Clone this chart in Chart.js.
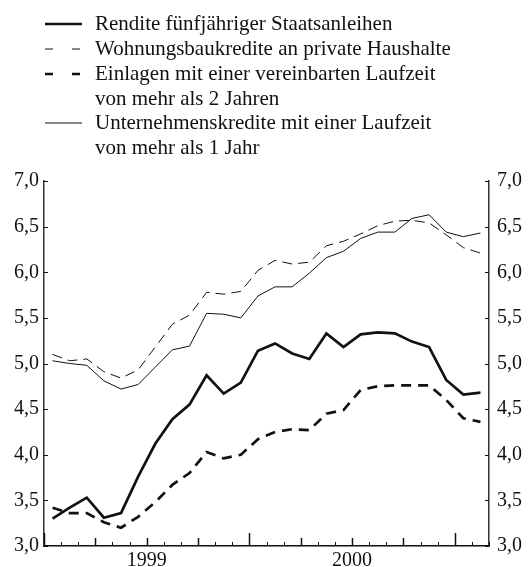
<!DOCTYPE html>
<html>
<head>
<meta charset="utf-8">
<script src="https://cdn.jsdelivr.net/npm/chart.js@4.4.0/dist/chart.umd.min.js"></script>
<style>
  html, body { margin: 0; padding: 0; background: #fff; }
  #wrap { position: relative; width: 528px; height: 567px; }
  #legend { position: absolute; left: 0; top: 0; font-family: "Liberation Serif", "Times New Roman", serif; font-size: 21px; color: #111; }
  .txt { position: absolute; left: 95px; white-space: nowrap; line-height: 24.5px; }
  .key { position: absolute; left: 45px; }
  canvas { position: absolute; left: 0; top: 0; }
</style>
</head>
<body>
<div id="wrap">
  <canvas id="chart" width="528" height="567"></canvas>
  <div id="legend">
    <svg class="key" style="top:21px" width="40" height="6"><line x1="0" y1="3" x2="37" y2="3" stroke="#111" stroke-width="2.7"/></svg>
    <div class="txt" style="top:11px">Rendite fünfjähriger Staatsanleihen</div>
    <svg class="key" style="top:46px" width="40" height="6"><line x1="0" y1="3" x2="37" y2="3" stroke="#111" stroke-width="1" stroke-dasharray="8 19"/></svg>
    <div class="txt" style="top:36px">Wohnungsbaukredite an private Haushalte</div>
    <svg class="key" style="top:71px" width="40" height="6"><line x1="0" y1="3" x2="37" y2="3" stroke="#111" stroke-width="2.7" stroke-dasharray="8 19"/></svg>
    <div class="txt" style="top:61px">Einlagen mit einer vereinbarten Laufzeit<br>von mehr als 2 Jahren</div>
    <svg class="key" style="top:120px" width="40" height="6"><line x1="0" y1="3" x2="37" y2="3" stroke="#111" stroke-width="1"/></svg>
    <div class="txt" style="top:110px">Unternehmenskredite mit einer Laufzeit<br>von mehr als 1 Jahr</div>
  </div>
</div>
<script>
'use strict';

// monthly values, Jan 1999 - Feb 2001
var months = [
  'Jan 99', 'Feb 99', 'Mär 99', 'Apr 99', 'Mai 99', 'Jun 99',
  'Jul 99', 'Aug 99', 'Sep 99', 'Okt 99', 'Nov 99', 'Dez 99',
  'Jan 00', 'Feb 00', 'Mär 00', 'Apr 00', 'Mai 00', 'Jun 00',
  'Jul 00', 'Aug 00', 'Sep 00', 'Okt 00', 'Nov 00', 'Dez 00',
  'Jan 01', 'Feb 01'
];

var rendite = [3.30, 3.42, 3.53, 3.31, 3.36, 3.76, 4.12, 4.39, 4.55, 4.87, 4.67, 4.79,
               5.14, 5.22, 5.11, 5.05, 5.33, 5.18, 5.32, 5.34, 5.33, 5.24, 5.18, 4.82,
               4.66, 4.68];
var wohnung = [5.10, 5.03, 5.05, 4.91, 4.84, 4.93, 5.18, 5.43, 5.53, 5.78, 5.76, 5.79,
               6.02, 6.13, 6.09, 6.11, 6.29, 6.34, 6.42, 6.51, 6.56, 6.57, 6.54, 6.41,
               6.27, 6.21];
var einlagen = [3.42, 3.36, 3.36, 3.26, 3.20, 3.32, 3.48, 3.67, 3.80, 4.03, 3.96, 4.00,
                4.17, 4.25, 4.28, 4.27, 4.45, 4.49, 4.71, 4.75, 4.76, 4.76, 4.76, 4.60,
                4.40, 4.36];
var unternehmen = [5.03, 5.00, 4.98, 4.81, 4.72, 4.77, 4.96, 5.15, 5.19, 5.55, 5.54, 5.50,
                   5.74, 5.84, 5.84, 5.99, 6.16, 6.23, 6.37, 6.44, 6.44, 6.59, 6.63, 6.44,
                   6.39, 6.43];

var years = ['1999', '2000'];
var yearCenters = [6, 18];   // in months from Jan 1999

var ink = '#111';

function pts(arr) {
  return arr.map(function(v, i) { return { x: i + 0.5, y: v }; });
}

function line(label, arr, width, dash) {
  return {
    label: label,
    data: pts(arr),
    borderColor: ink,
    borderWidth: width,
    borderDash: dash,
    pointRadius: 0,
    tension: 0,
    fill: false
  };
}

// inward tick marks: monthly / quarterly / yearly on x, half steps on y
var tickMarks = {
  id: 'tickMarks',
  afterDatasetsDraw: function(chart) {
    var ctx = chart.ctx;
    var a = chart.chartArea;
    var sx = chart.scales.x;
    ctx.save();
    ctx.strokeStyle = ink;
    for (let m = 0; m <= months.length; m++) {
      let x = Math.round(sx.getPixelForValue(m)) + 0.5;
      let len = m % 12 === 0 ? 13 : (m % 3 === 0 ? 8 : 4);
      ctx.lineWidth = m % 3 === 0 ? 1.5 : 1;
      ctx.beginPath();
      ctx.moveTo(x, a.bottom);
      ctx.lineTo(x, a.bottom - len);
      ctx.stroke();
    }
    ctx.lineWidth = 1;
    ['y', 'y2'].forEach(function(id) {
      let s = chart.scales[id];
      let x0 = id === 'y' ? a.left : a.right;
      let dir = id === 'y' ? 1 : -1;
      s.ticks.forEach(function(t) {
        let y = Math.round(s.getPixelForValue(t.value)) + 0.5;
        ctx.beginPath();
        ctx.moveTo(x0, y);
        ctx.lineTo(x0 + dir * 4, y);
        ctx.stroke();
      });
    });
    ctx.restore();
  }
};

var fmt = function(v) { return v.toFixed(1).replace('.', ','); };

var yAxis = function(pos, w, pad) {
  return {
    type: 'linear',
    position: pos,
    min: 3,
    max: 7,
    ticks: { stepSize: 0.5, padding: pad, color: ink, callback: fmt },
    grid: { display: false, drawTicks: false },
    border: { display: true, color: '#333', width: 1.5 },
    afterFit: function(s) { s.width = w; }
  };
};

Chart.defaults.font.family = '"Liberation Serif", "Times New Roman", serif';
Chart.defaults.font.size = 20;
Chart.defaults.color = ink;

var ctx = document.getElementById('chart').getContext('2d');
var chart = new Chart(ctx, {
  type: 'line',
  data: {
    datasets: [
      line('Rendite fünfjähriger Staatsanleihen', rendite, 2.7, []),
      line('Wohnungsbaukredite an private Haushalte', wohnung, 1, [10, 6]),
      line('Einlagen mit einer vereinbarten Laufzeit von mehr als 2 Jahren', einlagen, 2.7, [10, 7]),
      line('Unternehmenskredite mit einer Laufzeit von mehr als 1 Jahr', unternehmen, 1, [])
    ]
  },
  options: {
    responsive: false,
    animation: false,
    layout: { padding: { top: 181, left: 0, right: 0, bottom: 0 } },
    plugins: { legend: { display: false }, tooltip: { enabled: false } },
    scales: {
      x: {
        type: 'linear',
        min: 0,
        max: months.length,
        afterBuildTicks: function(s) {
          s.ticks = yearCenters.map(function(v) { return { value: v }; });
        },
        ticks: {
          padding: 3,
          maxRotation: 0,
          autoSkip: false,
          color: ink,
          callback: function(v) { return years[yearCenters.indexOf(v)]; }
        },
        grid: { display: false, drawTicks: false },
        border: { display: true, color: ink, width: 1.5 },
        afterFit: function(s) { s.height = 21; }
      },
      y: yAxis('left', 44, 5),
      y2: yAxis('right', 39, 8)
    }
  },
  plugins: [tickMarks]
});
</script>
</body>
</html>
